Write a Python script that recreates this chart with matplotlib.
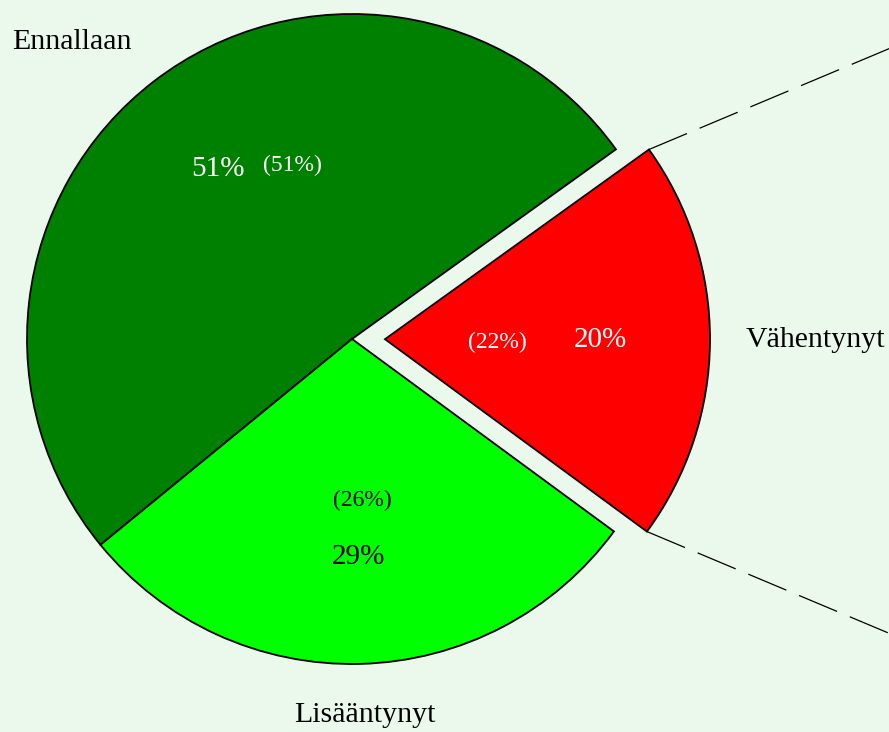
import numpy as np
import matplotlib.pyplot as plt

# data
labels = ['Vähentynyt', 'Ennallaan', 'Lisääntynyt']
shares = [20, 51, 29]
prev_shares = [22, 51, 26]
colors = ['#ff0000', '#008000', '#00ff00']
pct_colors = ['white', 'white', 'black']

plt.rcParams['font.family'] = ['Liberation Serif', 'DejaVu Serif']
bg = '#eaf9ec'

fig = plt.figure(figsize=(8.89, 7.32), dpi=100, facecolor=bg)
ax = fig.add_axes([0, 0, 1, 1])
ax.set_facecolor(bg)

center = (352, 393)
radius = 325
# pie's explode offset is in data units here
explode = [33, 0, 0]

wedges, _ = ax.pie(shares, colors=colors, startangle=-36.3, counterclock=True,
                   explode=explode, radius=radius, center=center, frame=True,
                   wedgeprops=dict(edgecolor='black', linewidth=1.3))
ax.set_xlim(0, 889)
ax.set_ylim(0, 732)
ax.set_aspect('equal')
ax.axis('off')

# text placement (x, y) in axes data units
pct_pos = [(600, 392), (218, 563), (358, 175)]
prev_pos = [(497, 390), (292, 567), (362, 232)]
label_pos = [(815, 392), (72, 690), (365, 17)]

for i in range(3):
    ax.text(*pct_pos[i], f'{shares[i]}%', color=pct_colors[i], fontsize=21,
            ha='center', va='center')
    ax.text(*prev_pos[i], f'({prev_shares[i]}%)', color=pct_colors[i], fontsize=17,
            ha='center', va='center')
    ax.text(*label_pos[i], labels[i], color='black', fontsize=21.5,
            ha='center', va='center')

# connector lines from the exploded slice
w = wedges[0]
cx, cy = w.center
for ang, slope in [(w.theta2, 0.42), (w.theta1, -0.42)]:
    x0 = cx + w.r * np.cos(np.radians(ang))
    y0 = cy + w.r * np.sin(np.radians(ang))
    x1 = 950
    y1 = y0 + slope * (x1 - x0)
    ax.plot([x0, x1], [y0, y1], color='black', linewidth=0.9,
            dashes=(33, 11), zorder=0)

fig.savefig('out.png', dpi=100, facecolor=bg)
